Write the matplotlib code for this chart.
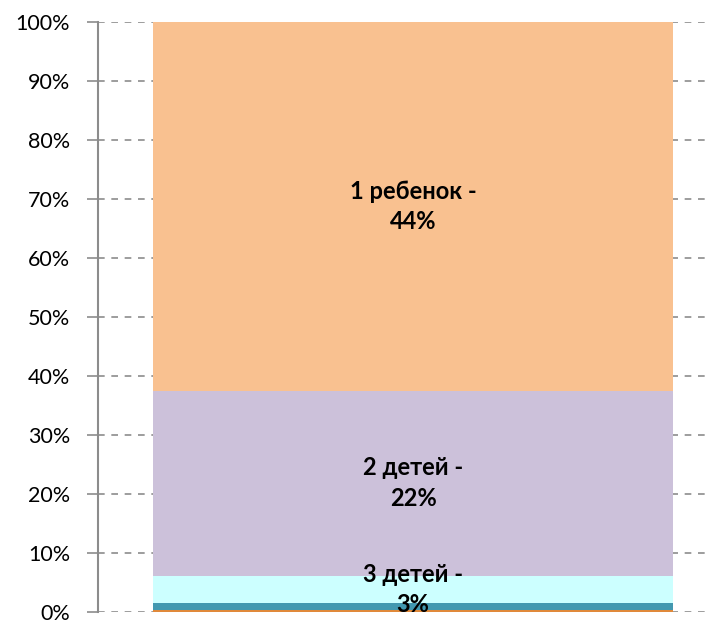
import matplotlib
matplotlib.use("Agg")
import matplotlib.pyplot as plt
import numpy as np

# raw values (share of families by number of children), bottom to top
categories = ["5+ детей", "4 детей", "3 детей", "2 детей", "1 ребенок"]
values = [0.25, 0.8, 3.3, 22, 44]
colors = ["#E0893A", "#4298B0", "#CCFFFF", "#CCC1DA", "#F9C190"]
labelled = [False, False, True, True, True]
yticks = list(range(0, 101, 10))
ytick_labels = [f"{t}%" for t in yticks]

plt.rcParams['font.family'] = ['Lato', 'DejaVu Sans']

fig = plt.figure(figsize=(7.05, 6.21), dpi=100)
ax = fig.add_axes([98/705, 9/621, 607/705, 590/621])

total = sum(values)
shares = [v / total * 100 for v in values]
bottom = 0
for cat, v, s, c, lab in zip(categories, values, shares, colors, labelled):
    ax.bar(0, s, bottom=bottom, width=0.857, color=c, zorder=2)
    if lab:
        ax.text(0, bottom + s / 2, f"{cat} -\n{v:.0f}%", ha="center", va="center",
                fontsize=17, fontweight="bold", color="black", linespacing=1.4, zorder=3)
    bottom += s

ax.set_xlim(-0.519, 0.481)
ax.set_ylim(0, 100)
ax.set_yticks(yticks)
ax.set_yticklabels(ytick_labels, fontsize=15.5)
ax.set_xticks([])
ax.yaxis.grid(True, color="#8c8c8c", linestyle=(0, (4, 4)), linewidth=1.2)
ax.set_axisbelow(True)
for sp in ["top", "right", "bottom"]:
    ax.spines[sp].set_visible(False)
ax.spines["left"].set_color("#8c8c8c")
ax.spines["left"].set_linewidth(1.5)
ax.tick_params(axis="y", length=8, color="#8c8c8c", width=1.2, pad=12)

fig.savefig("out.png", dpi=100)
